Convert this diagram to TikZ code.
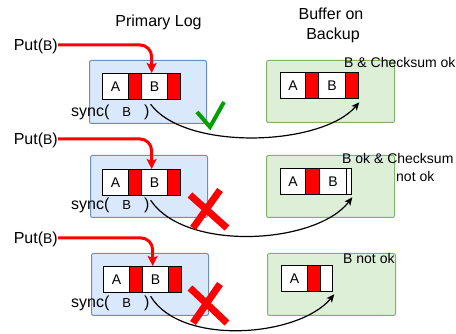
\documentclass[tikz,border=0pt]{standalone}
\usepackage{fontspec}
\setmainfont{Liberation Sans}
\usetikzlibrary{arrows.meta,calc}
\definecolor{bluefill}{HTML}{DAE8FC}
\definecolor{blueline}{HTML}{6C8EBF}
\definecolor{greenfill}{HTML}{DDEFD6}
\definecolor{greenline}{HTML}{82B366}
\definecolor{okgreen}{HTML}{00A000}
\begin{document}
\begin{tikzpicture}[x=1pt,y=-1pt,
  bluebox/.style={draw=blueline, fill=bluefill, line width=1pt, rounded corners=2pt, anchor=north west, inner sep=0, minimum width=117pt, minimum height=63pt},
  greenbox/.style={draw=greenline, fill=greenfill, line width=1pt, rounded corners=2pt, anchor=north west, inner sep=0, minimum width=128pt, minimum height=62pt},
  cell/.style={draw=black, line width=1.3pt, fill=white, anchor=north west, inner sep=0, minimum height=26pt, font=\fontsize{14}{16}\selectfont},
  redcell/.style={cell, fill=red},
  lbl/.style={anchor=base west, inner sep=0, font=\fontsize{14}{16}\selectfont},
  title/.style={anchor=base, inner sep=0, font=\fontsize{16}{20}\selectfont},
  puttext/.style={anchor=base east, inner sep=0, font=\fontsize{16}{19}\selectfont},
  synctext/.style={anchor=base west, inner sep=0, font=\fontsize{16}{19}\selectfont},
  putarrow/.style={red, line width=3pt, rounded corners=12pt, -{Stealth[length=10pt,width=10pt,inset=2pt]}},
  syncarrow/.style={black, line width=1.2pt, -{Stealth[length=8pt,width=7pt,inset=2pt]}},
  cross/.style={red, line width=7pt},
  tick/.style={okgreen, line width=4pt}
]
\useasboundingbox (0,0) rectangle (456,334);

% titles
\node[title] (t1) at (158.5,27) {Primary Log};
\node[title] (t2) at (331,20) {Buffer on};
\node[title] (t3) at (333,40) {Backup};

% ---------- row 1 ----------
\node[bluebox] (bl1) at (89,60) {};
\node[greenbox] (gr1) at (266,60) {};
\node[cell, minimum width=26pt] (b1A) at (102,73) {A};
\node[redcell, minimum width=13pt] (b1R1) at (128,73) {};
\node[cell, minimum width=26pt] (b1B) at (141,73) {B};
\node[redcell, minimum width=13pt] (b1R2) at (167,73) {};
\node[cell, minimum width=25pt] (g1A) at (280,72) {A};
\node[redcell, minimum width=13pt] (g1R1) at (305,72) {};
\node[cell, minimum width=27pt] (g1B) at (318,72) {B};
\node[redcell, minimum width=13pt] (g1R2) at (345,72) {};
\node[puttext] (p1) at (58,51) {Put({\fontsize{14}{16}\selectfont B})};
\node[synctext] (s1) at (71,117) {sync(\hspace{13pt}{\fontsize{13}{15}\selectfont B}\hspace{13pt})};
\node[lbl] (l1) at (344,68) {B \& Checksum ok};
\draw[putarrow] ([yshift=2pt]p1.east) -| ([xshift=-3pt]b1B.north);
\draw[syncarrow] ($(b1B.south)+(-4,4)$) .. controls ($(b1B.south)+(31,51)$) and ($(g1R2.south east)+(-38,47)$) .. ($(g1R2.south east)+(0,3)$);
\draw[tick] (197,112) -- (210,127) -- (224,102);

% ---------- row 2 ----------
\node[bluebox, minimum height=62pt] (bl2) at (90,155) {};
\node[greenbox] (gr2) at (266,155) {};
\node[cell, minimum width=26pt] (b2A) at (102,169) {A};
\node[redcell, minimum width=13pt] (b2R1) at (128,169) {};
\node[cell, minimum width=26pt] (b2B) at (141,169) {B};
\node[redcell, minimum width=13pt] (b2R2) at (167,169) {};
\node[cell, minimum width=25pt] (g2A) at (280,168) {A};
\node[redcell, minimum width=14pt] (g2R1) at (305,168) {};
\node[cell, minimum width=27pt] (g2B) at (319,168) {B};
\node[cell, minimum width=5pt] (g2W) at (346,168) {};
\node[puttext] (p2) at (58,145) {Put({\fontsize{14}{16}\selectfont B})};
\node[synctext] (s2) at (71,210) {sync(\hspace{13pt}{\fontsize{13}{15}\selectfont B}\hspace{13pt})};
\node[lbl, align=left] (l2) at (342,164) {B ok \& Checksum};
\node[lbl] (l2b) at (396,182) {not ok};
\draw[putarrow] ([yshift=2pt]p2.east) -| ([xshift=-3pt]b2B.north);
\draw[syncarrow] ($(b2B.south)+(-4,4)$) .. controls ($(b2B.south)+(31,56)$) and ($(g2W.south east)+(-36,49)$) .. ($(g2W.south east)+(0,2)$);
\draw[cross] (190,195) -- (227,228);
\draw[cross] (220,190) -- (193,228);

% ---------- row 3 ----------
\node[bluebox, minimum height=62pt] (bl3) at (91,253) {};
\node[greenbox] (gr3) at (267,253) {};
\node[cell, minimum width=26pt] (b3A) at (103,266) {A};
\node[redcell, minimum width=13pt] (b3R1) at (129,266) {};
\node[cell, minimum width=26pt] (b3B) at (142,266) {B};
\node[redcell, minimum width=13pt] (b3R2) at (168,266) {};
\node[cell, minimum width=26pt] (g3A) at (281,265) {A};
\node[redcell, minimum width=13pt] (g3R1) at (307,265) {};
\node[cell, minimum width=12pt] (g3W) at (320,265) {};
\node[puttext] (p3) at (58,244) {Put({\fontsize{14}{16}\selectfont B})};
\node[synctext] (s3) at (71,308) {sync(\hspace{13pt}{\fontsize{13}{15}\selectfont B}\hspace{13pt})};
\node[lbl] (l3) at (343,264) {B not ok};
\draw[putarrow] ([yshift=2pt]p3.east) -| ([xshift=-3pt]b3B.north);
\draw[syncarrow] ($(b3B.south)+(-5,3)$) .. controls ($(b3B.south)+(25,53)$) and ($(g3W.south east)+(-35,45)$) .. ($(g3W.south east)+(1,2)$);
\draw[cross] (190,288) -- (227,323);
\draw[cross] (220,284) -- (193,323);
\end{tikzpicture}
\end{document}
